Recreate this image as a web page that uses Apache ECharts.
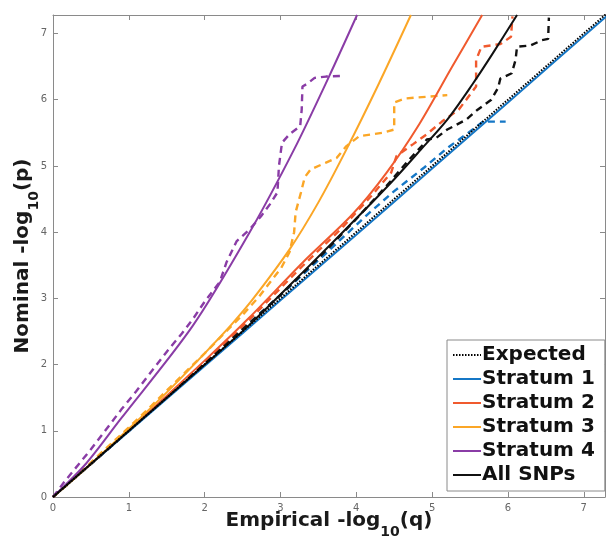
<!DOCTYPE html>
<html>
<head>
<meta charset="utf-8">
<title>QQ plot by stratum</title>
<script src="https://cdn.jsdelivr.net/npm/echarts@6/dist/echarts.min.js"></script>
<style>
  html, body { margin: 0; padding: 0; background: #fff; }
  #chart { width: 607px; height: 542px; }
</style>
</head>
<body>
<div id="chart"></div>
<script>
// Tick labels shared by both axes
const tickLabels = ['0', '1', '2', '3', '4', '5', '6', '7'];
const axisMax = 7.28;

// Legend entries (fitted curves and the null line)
const legendNames = ['Expected', 'Stratum 1', 'Stratum 2', 'Stratum 3', 'Stratum 4', 'All SNPs'];

// Null expectation: -log10(p) equals -log10(q)
const expected = [[0, 0], [7.3, 7.3]];

// Smoothed curves, [empirical -log10(q), nominal -log10(p)]
const stratum1Fit = [[0, 0], [1, 0.99], [2, 1.98], [3, 2.97], [4, 3.96], [5, 4.96], [6, 5.96], [7.3, 7.26]];
const stratum2Fit = [[0, 0], [1, 1.01], [2, 2.06], [2.59, 2.71], [3.3, 3.55], [3.95, 4.27], [4.4, 4.9], [4.83, 5.63], [5.26, 6.49], [5.66, 7.28]];
const stratum3Fit = [[0, 0], [0.5, 0.5], [1, 1.03], [1.5, 1.58], [2, 2.17], [2.35, 2.6], [2.63, 2.98], [3.12, 3.74], [3.5, 4.45], [3.87, 5.25], [4.3, 6.25], [4.72, 7.28]];
const stratum4Fit = [[0, 0], [0.44, 0.51], [0.88, 1.16], [1.84, 2.58], [2.59, 3.99], [3.18, 5.25], [3.64, 6.35], [4.01, 7.28]];
const allSnpsFit = [[0, 0], [1, 1.0], [2, 2.0], [2.59, 2.6], [3.3, 3.4], [4.08, 4.3], [4.5, 4.8], [4.83, 5.22], [5.2, 5.7], [5.53, 6.23], [5.8, 6.7], [6.12, 7.28]];

// Observed (step-like) curves
const stratum1Obs = [[0, 0], [1, 1.0], [2, 2.02], [3, 3.05], [3.6, 3.68], [4.15, 4.27], [4.5, 4.62], [4.9, 4.98], [5.2, 5.27], [5.5, 5.52], [5.67, 5.67], [5.97, 5.67]];
const stratum2Obs = [[0, 0], [1, 1.0], [2, 2.03], [2.59, 2.68], [3.3, 3.5], [3.8, 4.05], [4.2, 4.55], [4.46, 4.9], [4.53, 5.15], [4.75, 5.33], [4.93, 5.48], [5.13, 5.67], [5.35, 5.85], [5.45, 6.0], [5.58, 6.2], [5.58, 6.6], [5.65, 6.8], [5.9, 6.84], [6.04, 6.95], [6.06, 7.26]];
const stratum3Obs = [[0, 0], [0.3, 0.3], [0.6, 0.63], [1, 1.05], [1.3, 1.38], [1.6, 1.72], [2.0, 2.17], [2.3, 2.52], [2.5, 2.75], [2.72, 3.03], [2.9, 3.3], [3.01, 3.46], [3.12, 3.7], [3.18, 4.0], [3.2, 4.3], [3.27, 4.6], [3.32, 4.83], [3.4, 4.95], [3.6, 5.05], [3.74, 5.12], [3.87, 5.3], [4.04, 5.45], [4.34, 5.5], [4.5, 5.55], [4.5, 5.96], [4.65, 6.02], [5.2, 6.07]];
const stratum4Obs = [[0, 0], [0.15, 0.23], [0.3, 0.44], [0.5, 0.72], [0.7, 1.02], [0.9, 1.32], [1.1, 1.6], [1.3, 1.9], [1.54, 2.25], [1.7, 2.47], [1.84, 2.68], [2.0, 2.95], [2.2, 3.25], [2.29, 3.55], [2.42, 3.86], [2.6, 4.05], [2.75, 4.25], [2.86, 4.42], [2.96, 4.6], [2.98, 5.0], [3.02, 5.35], [3.12, 5.48], [3.26, 5.6], [3.28, 5.85], [3.29, 6.2], [3.35, 6.24], [3.45, 6.33], [3.6, 6.35], [3.84, 6.36]];
const allSnpsObs = [[0, 0], [1, 1.0], [2, 2.01], [3, 3.05], [3.6, 3.72], [4.0, 4.2], [4.4, 4.7], [4.7, 5.1], [4.88, 5.32], [4.93, 5.4], [5.05, 5.42], [5.2, 5.55], [5.45, 5.7], [5.6, 5.85], [5.78, 6.0], [5.87, 6.18], [5.9, 6.32], [6.05, 6.4], [6.1, 6.6], [6.12, 6.8], [6.3, 6.82], [6.45, 6.9], [6.53, 6.92], [6.54, 7.24]];

const colors = {
  s1: '#1577c6',
  s2: '#f05a2e',
  s3: '#fba626',
  s4: '#8a3ca6',
  all: '#111111'
};

const FONT = 'DejaVu Sans';
const AXIS_GRAY = '#8a8a8a';

function fitLine(name, data, color) {
  return {
    name: name, type: 'line', data: data, symbol: 'none', smooth: 0.3,
    lineStyle: { color: color, width: 2 }, itemStyle: { color: color },
    emphasis: { disabled: true }, z: 3
  };
}
function obsLine(name, data, color) {
  return {
    name: name, type: 'line', data: data, symbol: 'none',
    lineStyle: { color: color, width: 2.4, type: [7, 5] }, itemStyle: { color: color },
    emphasis: { disabled: true }, z: 2
  };
}

function valueAxis(position, showLabels, extra) {
  return Object.assign({
    type: 'value', position: position, min: 0, max: axisMax, interval: 1,
    axisLine: { show: true, onZero: false, lineStyle: { color: AXIS_GRAY, width: 1 } },
    axisTick: { show: true, inside: true, length: 5, lineStyle: { color: AXIS_GRAY } },
    splitLine: { show: false },
    axisLabel: {
      show: showLabels, showMaxLabel: false, margin: 6,
      fontFamily: FONT, fontSize: 10, color: '#666',
      formatter: function (v) { return tickLabels[Math.round(v)] || ''; }
    }
  }, extra || {});
}

const nameRich = {
  m: { fontFamily: FONT, fontWeight: 'bold', fontSize: 20, color: '#1a1a1a', lineHeight: 36 },
  s: { fontFamily: FONT, fontWeight: 'bold', fontSize: 14, color: '#1a1a1a', lineHeight: 14, verticalAlign: 'bottom' }
};

const chart = echarts.init(document.getElementById('chart'), null, { renderer: 'canvas' });
chart.setOption({
  animation: false,
  backgroundColor: '#fff',
  grid: { left: 53, right: 2, top: 15, bottom: 45, containLabel: false, outerBoundsMode: 'none' },
  xAxis: [
    valueAxis('bottom', true, {
      name: '{m|Empirical -log}{s|10}{m|(q)}', nameLocation: 'middle', nameGap: 6, nameMoveOverlap: false,
      nameTextStyle: { rich: nameRich }
    }),
    valueAxis('top', false)
  ],
  yAxis: [
    valueAxis('left', true, {
      name: '{m|Nominal -log}{s|10}{m|(p)}', nameLocation: 'middle', nameGap: 12, nameRotate: 90, nameMoveOverlap: false,
      nameTextStyle: { rich: nameRich }
    }),
    valueAxis('right', false)
  ],
  legend: {
    data: legendNames,
    orient: 'vertical', left: 447, top: 340,
    itemWidth: 28, itemHeight: 14, itemGap: 4,
    padding: [5, 10, 6, 5],
    backgroundColor: '#fff', borderColor: '#8a8a8a', borderWidth: 1,
    selectedMode: false,
    itemStyle: { opacity: 0 },
    textStyle: { fontFamily: FONT, fontWeight: 'bold', fontSize: 20, color: '#111', padding: [0, 0, 0, -4] }
  },
  series: [
    obsLine('Stratum 1 observed', stratum1Obs, colors.s1),
    obsLine('Stratum 2 observed', stratum2Obs, colors.s2),
    obsLine('Stratum 3 observed', stratum3Obs, colors.s3),
    obsLine('Stratum 4 observed', stratum4Obs, colors.s4),
    obsLine('All SNPs observed', allSnpsObs, colors.all),
    fitLine('Stratum 1', stratum1Fit, colors.s1),
    fitLine('Stratum 2', stratum2Fit, colors.s2),
    fitLine('Stratum 3', stratum3Fit, colors.s3),
    fitLine('Stratum 4', stratum4Fit, colors.s4),
    fitLine('All SNPs', allSnpsFit, colors.all),
    {
      name: 'Expected', type: 'line', data: expected, symbol: 'none',
      lineStyle: { color: '#000', width: 2, type: [1.5, 1.5] }, itemStyle: { color: '#000' },
      emphasis: { disabled: true }, z: 4
    }
  ]
});
</script>
</body>
</html>
